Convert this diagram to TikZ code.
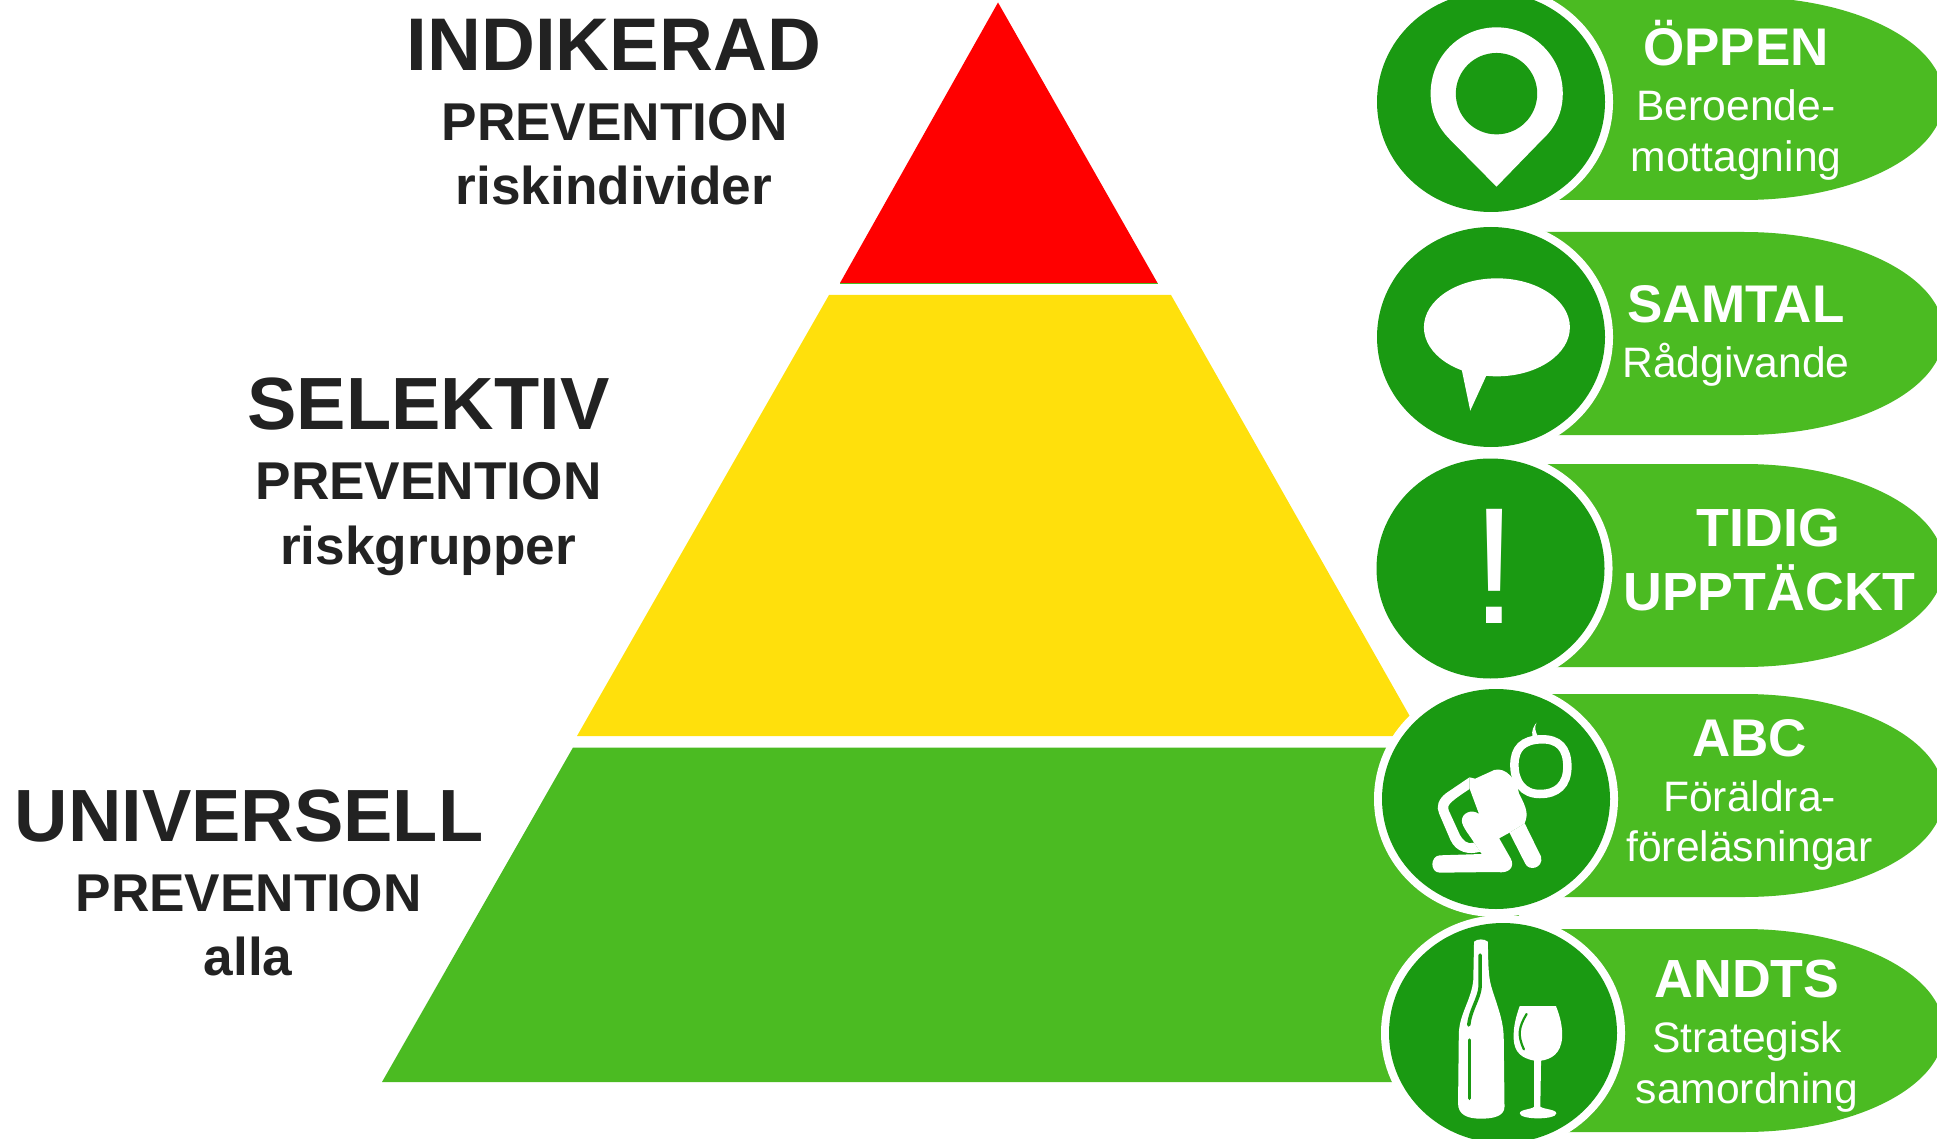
\documentclass[tikz,border=0pt]{standalone}
\usepackage{fontspec}
\setmainfont{Liberation Sans}
\definecolor{lightgreen}{HTML}{4BBB22}
\definecolor{darkgreen}{HTML}{1A9A12}
\definecolor{pyrred}{HTML}{FF0000}
\definecolor{pyryellow}{HTML}{FFE00C}
\definecolor{inktext}{HTML}{222222}
\tikzset{
  lbl/.style={inner sep=0pt,outer sep=0pt,anchor=base,align=center},
  biglbl/.style={lbl,text=inktext,font=\fontsize{74}{74}\selectfont\bfseries},
  midlbl/.style={lbl,text=inktext,font=\fontsize{53.2}{53.2}\selectfont\bfseries},
  headlbl/.style={lbl,text=white,font=\fontsize{53}{53}\selectfont\bfseries},
  widelbl/.style={lbl,text=white,font=\fontsize{53.7}{53.7}\selectfont\bfseries},
  sublbl/.style={lbl,text=white,font=\fontsize{42.6}{42.6}\selectfont},
  ring/.style={fill=white,draw=none},
  disc/.style={fill=darkgreen,draw=none},
  pillshape/.style={fill=lightgreen,draw=none},
  iconfill/.style={fill=white,draw=none},
  zoomA/.style={shift={(1340,0)},x=0.3808pt,y=-0.33333pt},
  zoomB/.style={shift={(1340,670)},x=0.3808pt,y=-0.33333pt},
}
\begin{document}
\begin{tikzpicture}[x=1pt,y=-1pt]
\useasboundingbox (0,0) rectangle (1937,1139);
\clip (0,0) rectangle (1937,1139);
% pyramid
\fill[pyrred] (998,2.5) -- (1157.5,283) -- (840,283) -- cycle;
\draw[lightgreen,line width=0.8pt] (840,283.3) -- (1157.5,283.3);
\fill[pyryellow] (829,295) -- (1171,295) -- (1421,736) -- (577,736) -- cycle;
\fill[lightgreen] (573,747.5) -- (1423,747.5) -- (1614,1082) -- (382,1082) -- cycle;
% pills
\fill[pillshape] (1500,-3) -- (1744,-3) .. controls (1854,-3) and (1944,42) .. (1944,98.5) .. controls (1944,155) and (1854,200) .. (1744,200) -- (1500,200) -- cycle;
\fill[pillshape] (1500,232) -- (1744,232) .. controls (1854,232) and (1944,277) .. (1944,333.5) .. controls (1944,390) and (1854,435) .. (1744,435) -- (1500,435) -- cycle;
\fill[pillshape] (1500,464) -- (1744,464) .. controls (1854,464) and (1944,509) .. (1944,565.5) .. controls (1944,622) and (1854,667) .. (1744,667) -- (1500,667) -- cycle;
\fill[pillshape] (1500,694) -- (1744,694) .. controls (1854,694) and (1944,739) .. (1944,795.5) .. controls (1944,852) and (1854,897) .. (1744,897) -- (1500,897) -- cycle;
\fill[pillshape] (1500,929) -- (1744,929) .. controls (1854,929) and (1944,974) .. (1944,1030.5) .. controls (1944,1087) and (1854,1132) .. (1744,1132) -- (1500,1132) -- cycle;
% discs with white rings
\path[ring] (1491,102) ellipse [x radius=122pt,y radius=118pt];
\path[disc] (1491,102) ellipse [x radius=114pt,y radius=110pt];
\path[ring] (1491,337) ellipse [x radius=122pt,y radius=118pt];
\path[disc] (1491,337) ellipse [x radius=114pt,y radius=110pt];
\path[ring] (1490.5,568.5) ellipse [x radius=122pt,y radius=118pt];
\path[disc] (1490.5,568.5) ellipse [x radius=114pt,y radius=110pt];
\path[ring] (1496,799) ellipse [x radius=122pt,y radius=118pt];
\path[disc] (1496,799) ellipse [x radius=114pt,y radius=110pt];
\path[ring] (1503,1033) ellipse [x radius=122pt,y radius=118pt];
\path[disc] (1503,1033) ellipse [x radius=114pt,y radius=110pt];
% pin icon
\begin{scope}[zoomA]
\fill[iconfill] (411,560) -- (290,420) .. controls (255,380) and (238,335) .. (238,280)
  .. controls (238,170) and (315,82) .. (411,82)
  .. controls (507,82) and (585,170) .. (585,280)
  .. controls (585,335) and (568,380) .. (530,420) -- cycle;
\fill[darkgreen] (411,281) ellipse [x radius=40.7pt,y radius=40.7pt];
% speech bubble icon
\fill[iconfill] (412,982) ellipse [x radius=73pt,y radius=49pt];
\fill[iconfill] (318,1100) -- (342,1232) -- (387,1120) -- cycle;
\end{scope}
% crawling figure and bottle icons
\begin{scope}[zoomB]
\draw[white,line width=8.5pt] (527,208) .. controls (575,206) and (597,235) .. (597,290)
  .. controls (597,345) and (570,372) .. (525,372)
  .. controls (480,372) and (458,335) .. (458,285)
  .. controls (458,235) and (480,210) .. (527,208) -- cycle;
\fill[iconfill] (505,200) .. controls (503,180) and (508,170) .. (516,158) .. controls (510,172) and (512,182) .. (520,200) -- cycle;
% body
\fill[iconfill] (340,355) -- (365,432) .. controls (345,415) and (320,430) .. (320,452)
  .. controls (320,470) and (340,495) .. (352,518) -- (372,552) -- (262,556)
  .. controls (236,558) and (236,608) .. (262,608) -- (412,606)
  .. controls (445,612) and (460,590) .. (448,565) -- (418,505) -- (445,488) -- (485,460)
  .. controls (495,430) and (490,415) .. (470,370)
  .. controls (465,330) and (435,290) .. (405,300) -- (355,326) -- (340,322) -- cycle;
% right arm
\fill[iconfill] (445,488) -- (485,460) -- (528,560) .. controls (535,595) and (495,605) .. (486,580) -- cycle;
% left arm
\fill[iconfill] (340,322) -- (278,370) .. controls (258,388) and (252,410) .. (260,430) -- (290,510)
  .. controls (305,548) and (340,555) .. (368,545) -- (352,518)
  .. controls (335,525) and (322,510) .. (315,495) -- (285,420)
  .. controls (280,405) and (290,395) .. (340,357) -- cycle;
% bottle
\fill[iconfill] (352,815) .. controls (360,806) and (380,806) .. (388,815)
  .. controls (390,880) and (388,920) .. (400,960)
  .. controls (420,1030) and (430,1060) .. (430,1110) -- (432,1310)
  .. controls (432,1340) and (400,1346) .. (370,1346)
  .. controls (335,1346) and (310,1335) .. (310,1300) -- (312,1090)
  .. controls (314,1030) and (345,990) .. (350,930) -- cycle;
\draw[darkgreen,line width=3.5pt,line cap=round] (368,855) -- (368,950) .. controls (366,985) and (342,1020) .. (338,1065);
\draw[darkgreen,line width=3.5pt,line cap=round] (340,1110) -- (340,1285);
% glass
\fill[iconfill] (472,1008) -- (567,1008) .. controls (578,1040) and (585,1070) .. (583,1105)
  .. controls (580,1150) and (555,1168) .. (528,1172) -- (526,1310) .. controls (535,1318) and (568,1318) .. (568,1330)
  .. controls (568,1350) and (472,1350) .. (472,1330) .. controls (472,1318) and (505,1318) .. (510,1310)
  -- (510,1172) .. controls (480,1165) and (457,1150) .. (456,1105) .. controls (455,1070) and (462,1040) .. (472,1008) -- cycle;
\draw[darkgreen,line width=2.2pt,line cap=round] (490,1032) .. controls (470,1070) and (465,1095) .. (483,1138);
\end{scope}
% left labels
\node[biglbl,font=\fontsize{74.6}{74.6}\selectfont\bfseries] (indikerad) at (614,71) {INDIKERAD};
\node[midlbl] (indprev) at (614.5,140.5) {PREVENTION};
\node[midlbl] (indsub) at (614,205) {riskindivider};
\node[biglbl] (selektiv) at (428.5,429) {SELEKTIV};
\node[midlbl] (selprev) at (428.5,499) {PREVENTION};
\node[midlbl] (selsub) at (428,564) {riskgrupper};
\node[biglbl] (universell) at (249,841.5) {UNIVERSELL};
\node[midlbl] (uniprev) at (248.5,911) {PREVENTION};
\node[midlbl] (unisub) at (248,975.5) {alla};
% right labels
\node[headlbl] (oppen) at (1736,66) {ÖPPEN};
\node[sublbl] (ber) at (1736,121) {Beroende-};
\node[sublbl] (mot) at (1736,172) {mottagning};
\node[headlbl] (samtal) at (1736,323) {SAMTAL};
\node[sublbl] (rad) at (1736,377) {Rådgivande};
\node[widelbl] (tidig) at (1768.5,546) {TIDIG};
\node[widelbl] (upp) at (1769.5,610) {UPPTÄCKT};
\node[headlbl] (abc) at (1749.5,756) {ABC};
\node[sublbl] (for) at (1749.5,811) {Föräldra-};
\node[sublbl] (fol) at (1749.5,861.5) {föreläsningar};
\node[widelbl] (andts) at (1747,997) {ANDTS};
\node[sublbl] (str) at (1747,1052.5) {Strategisk};
\node[sublbl] (sam) at (1747,1103) {samordning};
% exclamation
\node[lbl,text=white,font=\fontsize{166}{166}\selectfont] (excl) at (1495,623) {!};
\end{tikzpicture}
\end{document}
